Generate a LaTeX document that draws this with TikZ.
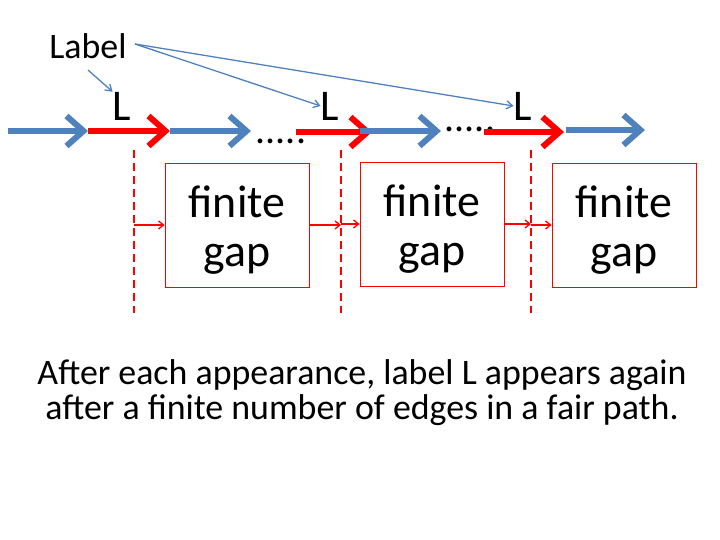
\documentclass[tikz,border=0pt]{standalone}
\usepackage{fontspec}
\setmainfont{Carlito}
\usetikzlibrary{arrows.meta}
\definecolor{edgeblue}{RGB}{79,129,189}
\newcommand{\gaptext}{\rule{0pt}{42bp}finite\\gap}
\tikzset{
  bigedge/.style={line width=6bp,-{Straight Barb[length=17bp,width=30bp]}},
  gapbox/.style={draw=red,line width=0.8bp,minimum width=144bp,minimum height=124bp,
    align=center,font=\fontsize{46}{50}\selectfont,inner sep=0pt},
  gaparrow/.style={red,line width=1.3bp,-{Straight Barb[length=5bp,width=8bp]}},
  cut/.style={red,line width=2bp,dash pattern=on 8bp off 5bp},
  pointer/.style={edgeblue,line width=1.3bp,-{Straight Barb[length=6bp,width=8bp]}},
  lab/.style={font=\fontsize{44}{52}\selectfont,inner sep=0pt}
}
\begin{document}
\begin{tikzpicture}[x=1bp,y=-1bp]
  \useasboundingbox (0,0) rectangle (720,540);
  % the path of edges
  \coordinate (p0) at (8,131);
  \coordinate (p1) at (88,131);
  \coordinate (p2) at (170,131);
  \coordinate (p3) at (251,131);
  \coordinate (q0) at (296,132);
  \coordinate (q1) at (372,132);
  \coordinate (q2) at (360,131);
  \coordinate (q3) at (441,131);
  \coordinate (r0) at (484,132);
  \coordinate (r1) at (564,132);
  \coordinate (r2) at (566,130);
  \coordinate (r3) at (645,130);
  \draw[bigedge,edgeblue](p0)--(p1);
  \draw[bigedge,red](p1)--(p2);
  \draw[bigedge,edgeblue](p2)--(p3);
  \node[font=\fontsize{40}{40}\selectfont,anchor=base] (dots1) at (281,144) {.....};
  \draw[bigedge,red](q0)--(q1);
  \draw[bigedge,edgeblue](q2)--(q3);
  \node[font=\fontsize{40}{40}\selectfont,anchor=base] (dots2) at (470,132) {.....};
  \draw[bigedge,red](r0)--(r1);
  \draw[bigedge,edgeblue](r2)--(r3);
  % labels
  \node[lab] (l1) at (122,106) {L};
  \node[lab] (l2) at (330,106) {L};
  \node[lab] (l3) at (523,106) {L};
  \node[font=\fontsize{36}{36}\selectfont,inner sep=0pt] (label) at (88,46) {Label};
  \coordinate (lb) at (135,44);
  \draw[pointer](88,70)--(l1.north west);
  \draw[pointer](lb)--(l2.west);
  \draw[pointer](lb)--(l3.west);
  % cuts
  \coordinate (c1) at (134,150);
  \coordinate (c2) at (341,150);
  \coordinate (c3) at (531,150);
  \draw[cut](c1)--++(0,163) coordinate (c1b);
  \draw[cut](c2)--++(0,163) coordinate (c2b);
  \draw[cut](c3)--++(0,163) coordinate (c3b);
  % gaps
  \node[gapbox] (g1) at (237,225) {\gaptext};
  \node[gapbox] (g2) at (432,224) {\gaptext};
  \node[gapbox] (g3) at (624,225) {\gaptext};
  \draw[gaparrow](c1|-g1.west)--(g1.west);
  \draw[gaparrow](g1.east)--(c2|-g1.east);
  \draw[gaparrow](c2|-g2.west)--(g2.west);
  \draw[gaparrow](g2.east)--(c3|-g2.east);
  \draw[gaparrow](c3|-g3.west)--(g3.west);
  % caption
  \node[align=center,font=\fontsize{36}{35}\selectfont] (caption) at (362,393)
    {After each appearance, label L appears again\\after a finite number of edges in a fair path.};
\end{tikzpicture}
\end{document}
